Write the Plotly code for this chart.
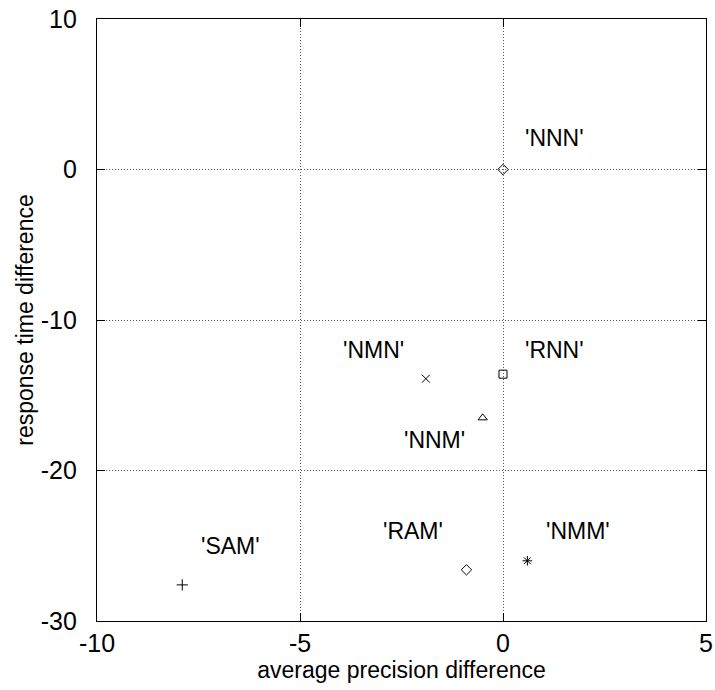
import plotly.graph_objects as go

# Data points (average precision difference, response time difference)
names = ["'NNN'", "'NMN'", "'RNN'", "'NNM'", "'RAM'", "'NMM'", "'SAM'"]
prec_diff = [0.0, -1.9, 0.0, -0.5, -0.9, 0.6, -7.9]
time_diff = [0.0, -13.9, -13.6, -16.5, -26.6, -26.0, -27.6]
symbols = ["diamond-open", "x-thin-open", "square-open", "triangle-up-open",
           "diamond-open", "asterisk-open", "cross-thin-open"]

# Label positions (left edge x, centre y)
label_x = [0.5, -4.0, 0.5, -2.5, -3.0, 1.0, -7.5]
label_y = [2.1, -12.0, -12.0, -18.0, -24.0, -24.0, -25.0]

x_ticks = [-10, -5, 0, 5]
y_ticks = [10, 0, -10, -20, -30]

FONT = "Liberation Sans, Arial, Helvetica, sans-serif"
FS = 23
TFS = 25

fig = go.Figure()
fig.add_trace(go.Scatter(
    x=prec_diff, y=time_diff, mode="markers",
    marker=dict(symbol=symbols, size=8, color="black",
                line=dict(color="black", width=1)),
    showlegend=False, hoverinfo="skip",
))

for n, lx, ly in zip(names, label_x, label_y):
    fig.add_annotation(x=lx, y=ly, text=n, showarrow=False,
                       xanchor="left", yanchor="middle",
                       font=dict(family=FONT, size=FS, color="black"))

axis_common = dict(
    showline=True, linecolor="black", linewidth=1.2, mirror="ticks",
    ticks="inside", ticklen=8, tickcolor="black", tickwidth=1,
    showgrid=True, gridcolor="#555555", gridwidth=1, griddash="1px,2px",
    zeroline=False, automargin=False, ticklabeloverflow="allow",
    tickfont=dict(family=FONT, size=TFS, color="black"),
)

fig.update_xaxes(range=[-10, 5], tickvals=x_ticks,
                 ticktext=[str(v) for v in x_ticks],
                 ticklabelstandoff=0,
                 title=dict(text="average precision difference",
                            font=dict(family=FONT, size=FS, color="black"),
                            standoff=0),
                 **axis_common)
fig.update_yaxes(range=[-30, 10], tickvals=y_ticks,
                 ticktext=[str(v) for v in y_ticks],
                 ticklabelstandoff=14,
                 title=dict(text="response time difference",
                            font=dict(family=FONT, size=FS, color="black"),
                            standoff=0),
                 **axis_common)

fig.update_layout(
    width=715, height=690,
    margin=dict(l=97, r=9, t=19, b=69),
    paper_bgcolor="white", plot_bgcolor="white",
    font=dict(family=FONT, color="black"),
)

fig.write_html(
    "out.html",
    config={"displayModeBar": False, "staticPlot": True},
    post_script="document.body.style.margin='0';document.body.style.overflow='hidden';",
)
